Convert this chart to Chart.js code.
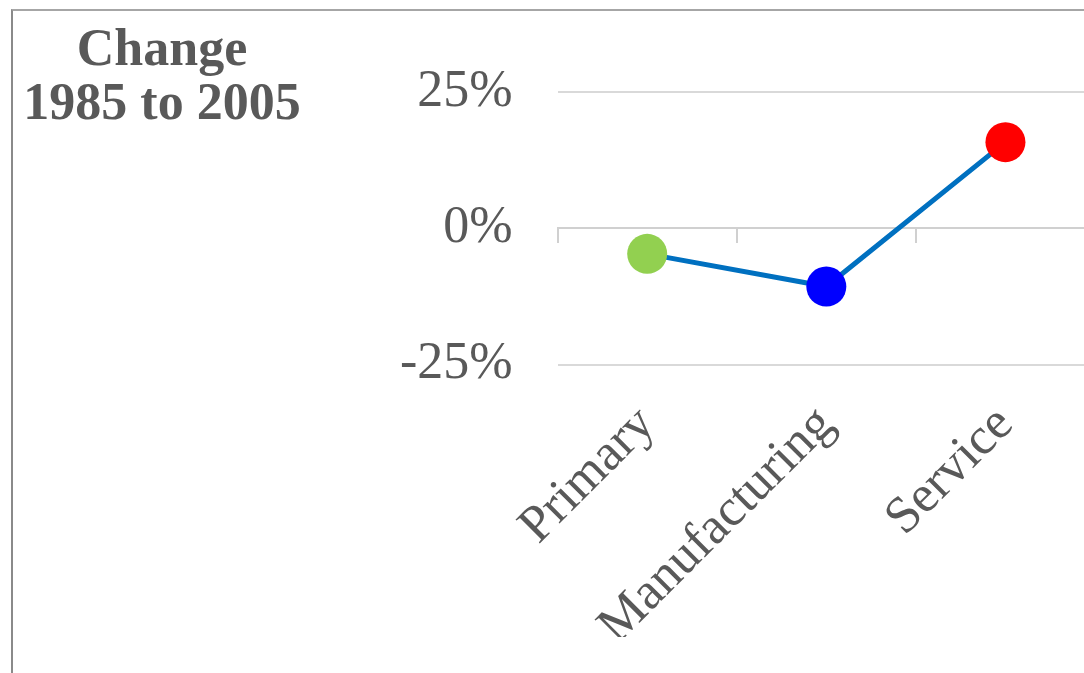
<!DOCTYPE html>
<html lang="en">
<head>
    <meta charset="UTF-8">
    <title>Change 1985 to 2005</title>
    <style>
        html, body {
            margin: 0;
            padding: 0;
            background: #ffffff;
            overflow: hidden;
            width: 1084px;
            height: 673px;
        }
        .frame {
            position: absolute;
            left: 11px;
            top: 9px;
            width: 2000px;
            height: 2000px;
            border-left: 2px solid #8a8a8a;
            border-top: 2px solid #a6a6a6;
        }
        .title {
            position: absolute;
            left: 0;
            top: 21px;
            width: 324px;
            text-align: center;
            font-family: 'Liberation Serif', 'Times New Roman', serif;
            font-weight: bold;
            font-size: 52px;
            line-height: 54px;
            color: #595959;
        }
        .chart-box {
            position: absolute;
            left: 0;
            top: 0;
            width: 1115px;
            height: 680px;
        }
    </style>
</head>
<body>
<div class="frame"></div>
<div class="title">Change<br>1985 to 2005</div>
<div class="chart-box">
    <canvas id="changeChart"></canvas>
</div>

<script src="https://cdn.jsdelivr.net/npm/chart.js"></script>
<script>
  const categories = ['Primary', 'Manufacturing', 'Service'];
  const changeValues = [-4.7, -10.7, 15.8];
  const pointColors = ['#92D050', '#0000FF', '#FF0000'];
  const yTicks = [-25, 0, 25];

  const textGray = '#595959';
  const serif = "'Liberation Serif', 'Times New Roman', serif";

  const ctx = document.getElementById('changeChart').getContext('2d');
  const chart = new Chart(ctx, {
    type: 'line',
    data: {
      labels: categories,
      datasets: [{
        data: changeValues,
        borderColor: '#0070C0',
        borderWidth: 5,
        pointRadius: 20,
        pointHoverRadius: 20,
        pointBorderWidth: 0,
        pointBackgroundColor: pointColors,
        tension: 0,
        fill: false
      }]
    },
    options: {
      responsive: true,
      maintainAspectRatio: false,
      animation: false,
      layout: {
        padding: { left: 355, top: 92, right: 5, bottom: 43 }
      },
      plugins: {
        legend: { display: false },
        tooltip: { enabled: false }
      },
      scales: {
        y: {
          min: yTicks[0],
          max: yTicks[yTicks.length - 1],
          afterBuildTicks: function(scale) {
            scale.ticks = yTicks.map(v => ({ value: v }));
          },
          ticks: {
            padding: 45,
            color: textGray,
            font: { family: serif, size: 52 },
            callback: v => v + '%'
          },
          grid: {
            color: '#d9d9d9',
            lineWidth: 2,
            drawTicks: false
          },
          border: { display: false }
        },
        x: {
          offset: true,
          ticks: {
            minRotation: 45,
            maxRotation: 45,
            padding: 30,
            color: textGray,
            font: { family: serif, size: 52 }
          },
          grid: { display: false, drawTicks: false },
          border: { display: false }
        },
        xZero: {
          type: 'category',
          labels: categories,
          position: { y: 0 },
          offset: true,
          afterFit: function(scale) {
            scale.height = 0;
          },
          ticks: { display: false },
          grid: {
            offset: true,
            drawOnChartArea: false,
            color: '#d0d0d0',
            lineWidth: 2,
            tickLength: 14
          },
          border: { color: '#d0d0d0', width: 2 }
        }
      }
    }
  });
</script>
</body>
</html>
